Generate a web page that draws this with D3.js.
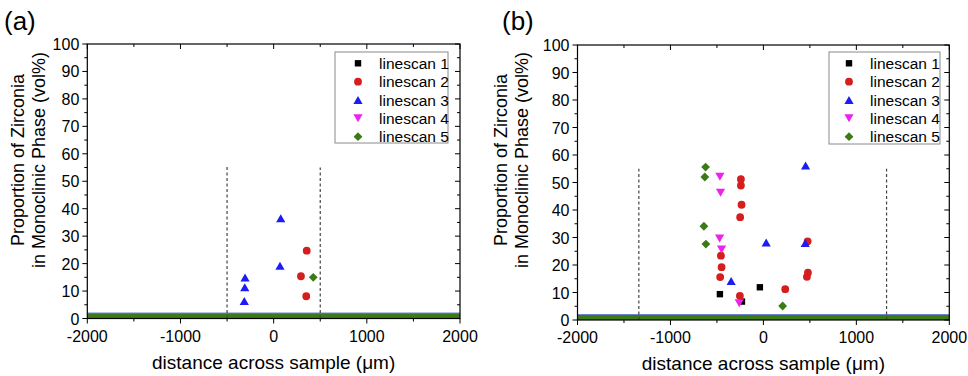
<!DOCTYPE html>
<html><head><meta charset="utf-8">
<script src="https://cdn.jsdelivr.net/npm/d3@7"></script>
<style>body{margin:0;background:#fff}svg{display:block;font-family:Arial,"Liberation Sans",sans-serif}</style>
</head><body><svg id="c" width="968" height="376"></svg>
<script>
// ---- data ----
const seriesNames = ["linescan 1","linescan 2","linescan 3","linescan 4","linescan 5"];
const seriesColors = ["#000000","#d51f1f","#1c1cf5","#ee22ee","#3b7a17"];
const seriesShapes = ["square","circle","triUp","triDown","diamond"];
const xTicks = [-2000,-1000,0,1000,2000];
const yTicks = [0,10,20,30,40,50,60,70,80,90,100];
const baselineX = [-2000, 2000];
const baseBlue = [1.9, 1.9];
const baseGreen = [0.9, 0.9];

// panel (a)
const aDashX = [-500, 500];
const aDashTop = [56, 55];
const a1x = [], a1y = [];
const a2x = [355, 293, 350], a2y = [24.7, 15.4, 8.1];
const a3x = [-307, -310, -315, 76, 68], a3y = [14.9, 11.4, 6.4, 36.5, 19.2];
const a4x = [], a4y = [];
const a5x = [425], a5y = [15.0];

// panel (b)
const bDashX = [-1340, 1325];
const bDashTop = [55, 55];
const b1x = [-468, -38, -231], b1y = [9.4, 11.9, 6.7];
const b2x = [-242, -242, -235, -250, -457, -450, -465, -253, 235, 476, 479, 468],
      b2y = [51.2, 48.9, 41.9, 37.4, 23.4, 19.2, 15.6, 8.8, 11.2, 28.6, 17.2, 15.7];
const b3x = [454, 30, 450, -347], b3y = [56.2, 28.2, 28.0, 14.2];
const b4x = [-468, -461, -471, -450, -260], b4y = [52.1, 46.3, 29.6, 25.6, 6.1];
const b5x = [-622, -630, -640, -619, 207], b5y = [55.6, 52.0, 34.1, 27.6, 5.1];

const svg = d3.select("#c");

function shapePath(shape, cx, cy) {
  if (shape === "square") { const s = 3.2; return `M${cx-s},${cy-s}h${2*s}v${2*s}h${-2*s}Z`; }
  if (shape === "circle") { const r = 3.9; return `M${cx-r},${cy}a${r},${r} 0 1,0 ${2*r},0a${r},${r} 0 1,0 ${-2*r},0Z`; }
  if (shape === "triUp") { const w = 4.6, h = 4.0; return `M${cx},${cy-h}L${cx+w},${cy+h}L${cx-w},${cy+h}Z`; }
  if (shape === "triDown") { const w = 4.6, h = 4.0; return `M${cx},${cy+h}L${cx+w},${cy-h}L${cx-w},${cy-h}Z`; }
  if (shape === "diamond") { const s = 4.4; return `M${cx},${cy-s}L${cx+s},${cy}L${cx},${cy+s}L${cx-s},${cy}Z`; }
}

function panel(cfg) {
  const x = d3.scaleLinear().domain([-2000, 2000]).range([cfg.left, cfg.right]);
  const y = d3.scaleLinear().domain([0, 100]).range([cfg.bottom, cfg.top]);
  const g = svg.append("g");
  const minorX = d3.range(-2000, 2001, 500);
  const minorY = d3.range(0, 101, 5);

  // baseline bands
  const line = d3.line().x((d) => x(d[0])).y((d) => y(d[1]));
  g.append("path").attr("d", line(baselineX.map((v, i) => [v, baseBlue[i]])))
    .attr("stroke", "#6a86cc").attr("stroke-width", 1.5).attr("fill", "none");
  g.append("path").attr("d", line(baselineX.map((v, i) => [v, baseGreen[i]])))
    .attr("stroke", "#3b7a17").attr("stroke-width", 5).attr("fill", "none");

  // dashed lines
  cfg.dashX.forEach((dx, i) => {
    g.append("line").attr("x1", x(dx)).attr("x2", x(dx)).attr("y1", y(0)).attr("y2", y(cfg.dashTop[i]))
      .attr("stroke", "#444").attr("stroke-width", 1.2).attr("stroke-dasharray", "3,2.5");
  });

  // points
  cfg.series.forEach((s, si) => {
    s[0].forEach((xv, i) => {
      g.append("path").attr("d", shapePath(seriesShapes[si], x(xv), y(s[1][i])))
        .attr("fill", seriesColors[si]);
    });
  });

  // frame
  g.append("rect").attr("x", cfg.left).attr("y", cfg.top).attr("width", cfg.right - cfg.left)
    .attr("height", cfg.bottom - cfg.top).attr("fill", "none").attr("stroke", "#000").attr("stroke-width", 1.2);

  // ticks
  minorX.forEach((v) => {
    const len = v % 1000 === 0 ? 5 : 3;
    g.append("line").attr("x1", x(v)).attr("x2", x(v)).attr("y1", cfg.bottom).attr("y2", cfg.bottom + len).attr("stroke", "#000");
    g.append("line").attr("x1", x(v)).attr("x2", x(v)).attr("y1", cfg.top).attr("y2", cfg.top + len).attr("stroke", "#000");
  });
  minorY.forEach((v) => {
    const len = v % 10 === 0 ? 5 : 3;
    g.append("line").attr("x1", cfg.left - len).attr("x2", cfg.left).attr("y1", y(v)).attr("y2", y(v)).attr("stroke", "#000");
    g.append("line").attr("x1", cfg.right - len).attr("x2", cfg.right).attr("y1", y(v)).attr("y2", y(v)).attr("stroke", "#000");
  });
  xTicks.forEach((v) => {
    g.append("text").attr("x", x(v)).attr("y", cfg.bottom + 23).attr("text-anchor", "middle")
      .attr("font-size", 16).text(v);
  });
  yTicks.forEach((v) => {
    g.append("text").attr("x", cfg.left - 8).attr("y", y(v) + 6).attr("text-anchor", "end")
      .attr("font-size", 16).text(v);
  });

  // titles
  g.append("text").attr("x", (cfg.left + cfg.right) / 2).attr("y", cfg.bottom + 50).attr("text-anchor", "middle")
    .attr("font-size", 19).text("distance across sample (\u03bcm)");
  const ty = 160;
  g.append("text").attr("transform", `translate(${cfg.left + cfg.t1},${ty}) rotate(-90)`).attr("text-anchor", "middle")
    .attr("font-size", 18).text("Proportion of Zirconia");
  g.append("text").attr("transform", `translate(${cfg.left + cfg.t2},${ty}) rotate(-90)`).attr("text-anchor", "middle")
    .attr("font-size", 18).text("in Monoclinic Phase (vol%)");
  g.append("text").attr("x", cfg.labX).attr("y", 30).attr("font-size", 26).text(cfg.label);

  // legend
  const L = cfg.legend;
  g.append("rect").attr("x", L.x).attr("y", L.y).attr("width", L.w).attr("height", L.h)
    .attr("fill", "#fff").attr("stroke", "#8a8a8a").attr("stroke-width", 1);
  seriesNames.forEach((n, i) => {
    const yy = L.y + 11.3 + i * 18.35;
    g.append("path").attr("d", shapePath(seriesShapes[i], L.mx, yy)).attr("fill", seriesColors[i]);
    g.append("text").attr("x", L.tx).attr("y", yy + 5.5).attr("font-size", 15.5).text(n);
  });
}

panel({left: 87.3, right: 460, top: 44, bottom: 318.5, dashX: aDashX, dashTop: aDashTop,
  series: [[a1x,a1y],[a2x,a2y],[a3x,a3y],[a4x,a4y],[a5x,a5y]],
  t1: -63, t2: -42, labX: 4, label: "(a)",
  legend: {x: 335, y: 52, w: 113, h: 91, mx: 358, tx: 379}});
panel({left: 577.5, right: 949.3, top: 45, bottom: 320, dashX: bDashX, dashTop: bDashTop,
  series: [[b1x,b1y],[b2x,b2y],[b3x,b3y],[b4x,b4y],[b5x,b5y]],
  t1: -71, t2: -50, labX: 502, label: "(b)",
  legend: {x: 829, y: 52, w: 111, h: 92, mx: 849, tx: 870}});
</script>
</body></html>
